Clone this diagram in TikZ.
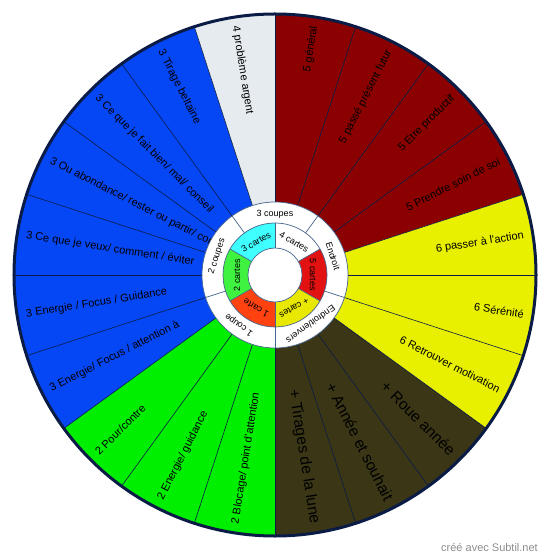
\documentclass[tikz,border=0pt]{standalone}
\usepackage{fontspec}
\setmainfont{Liberation Sans}
\usetikzlibrary{calc}

\definecolor{wblue}{RGB}{5,70,245}
\definecolor{wgreen}{RGB}{0,238,0}
\definecolor{wred}{RGB}{139,0,0}
\definecolor{wyellow}{RGB}{232,240,0}
\definecolor{wolive}{RGB}{58,54,22}
\definecolor{wgray}{RGB}{230,235,240}
\definecolor{wnavy}{RGB}{10,28,70}
\definecolor{wsteel}{RGB}{70,100,140}
\definecolor{icyan}{RGB}{64,255,255}
\definecolor{igreen}{RGB}{64,242,64}
\definecolor{ired}{RGB}{226,18,18}
\definecolor{iorange}{RGB}{255,66,16}
\definecolor{iyellow}{RGB}{232,232,0}

\begin{document}
\begin{tikzpicture}[x=1pt, y=1pt,
    sep/.style={draw=wnavy, line width=0.6pt},
    ringsep/.style={draw=wsteel, line width=0.7pt},
    rtext/.style={font=\fontsize{11}{13}\selectfont, inner sep=0pt, anchor=east},
    ltext/.style={font=\fontsize{11}{13}\selectfont, inner sep=0pt, anchor=west},
    bigtext/.style={font=\fontsize{15.5}{18}\selectfont, inner sep=0pt, anchor=east},
    ringtext/.style={font=\fontsize{9}{11}\selectfont, inner sep=0pt}
  ]
  \useasboundingbox (-275,-284) rectangle (275,275);

  % outer wheel, 20 sectors of 18 degrees
  \foreach \a/\b/\c in {90/18/wred, 18/-36/wyellow, -36/-90/wolive, -90/-144/wgreen, -144/-252/wblue, -252/-270/wgray}
    \fill[\c] (0,0) -- (\a:261) arc[start angle=\a, end angle=\b, radius=261] -- cycle;
  \foreach \a in {0,18,...,342}
    \draw[sep] (\a:73) -- (\a:261);

  % labels of the wheel
  \node[rtext, rotate=81] (s1) at (81:252) {5 général};
  \node[rtext, rotate=63] (s2) at (63:252) {5 passé présent futur};
  \node[rtext, rotate=45] (s3) at (45:252) {5 Etre productif};
  \node[rtext, rotate=27] (s4) at (27:252) {5 Prendre soin de soi};
  \node[rtext, rotate=9] (s5) at (9:252) {6 passer à l'action};
  \node[rtext, rotate=-9] (s6) at (-9:252) {6 Sérénité};
  \node[rtext, rotate=-27] (s7) at (-27:252) {6 Retrouver motivation};
  \node[bigtext, rotate=-45] (s8) at (-45:252) {+ Roue année};
  \node[bigtext, rotate=-63] (s9) at (-63:252) {+ Année et souhait};
  \node[bigtext, rotate=-81] (s10) at (-81:252) {+ Tirages de la lune};
  \node[ltext, rotate=81] (s11) at (-99:252) {2 Blocage/ point d'attention};
  \node[ltext, rotate=63] (s12) at (-117:252) {2 Energie/ guidance};
  \node[ltext, rotate=45] (s13) at (-135:252) {2 Pour/contre};
  \node[ltext, rotate=27] (s14) at (-153:252) {3 Energie/ Focus / attention à};
  \node[ltext, rotate=9] (s15) at (-171:252) {3 Energie / Focus / Guidance};
  \node[ltext, rotate=-9] (s16) at (171:252) {3 Ce que je veux/ comment / éviter};
  \node[ltext, rotate=-27] (s17) at (153:252) {3 Ou abondance/ rester ou partir/ con};
  \node[ltext, rotate=-45] (s18) at (135:252) {3 Ce que je fait bien/ mal/ conseil};
  \node[ltext, rotate=-63] (s19) at (117:252) {3 Tirage beltaine};
  \node[ltext, rotate=-81] (s20) at (99:252) {4 problème argent};

  \draw[wnavy, line width=3pt] (0,0) circle[radius=261];

  % middle ring
  \fill[white] (0,0) circle[radius=73];
  \foreach \a/\b/\c in {90/30/white, 30/-30/ired, -30/-90/iyellow, -90/-150/iorange, -150/-210/igreen, -210/-270/icyan}
    \fill[\c] (0,0) -- (\a:52) arc[start angle=\a, end angle=\b, radius=52] -- cycle;
  \fill[white] (0,0) circle[radius=27];
  \foreach \a in {54,126,198,270,342}
    \draw[ringsep] (\a:52) -- (\a:73);
  \foreach \a in {30,90,...,330}
    \draw[ringsep] (\a:27) -- (\a:52);
  \draw[ringsep] (0,0) circle[radius=73] circle[radius=52] circle[radius=27];

  \node[ringtext, rotate=0] (c1) at (90:61) {3 coupes};
  \node[ringtext, rotate=-72] (c2) at (18:61) {Endroit};
  \node[ringtext, rotate=-144] (c3) at (-54:61) {Endroit/envers};
  \node[ringtext, rotate=144] (c4) at (-126:61) {1 coupe};
  \node[ringtext, rotate=72] (c5) at (162:61) {2 coupes};

  \node[ringtext, rotate=-30] (k1) at (60:38) {4 cartes};
  \node[ringtext, rotate=-90] (k2) at (0:38) {5 cartes};
  \node[ringtext, rotate=-150] (k3) at (-60:38) {+ cartes};
  \node[ringtext, rotate=150] (k4) at (-120:38) {1 carte};
  \node[ringtext, rotate=90] (k5) at (180:38) {2 cartes};
  \node[ringtext, rotate=30] (k6) at (120:38) {3 cartes};

  \node[anchor=east, inner sep=0pt, text=black!45, font=\fontsize{11}{13}\selectfont] (credit) at (263,-272) {créé avec Subtil.net};
\end{tikzpicture}
\end{document}
